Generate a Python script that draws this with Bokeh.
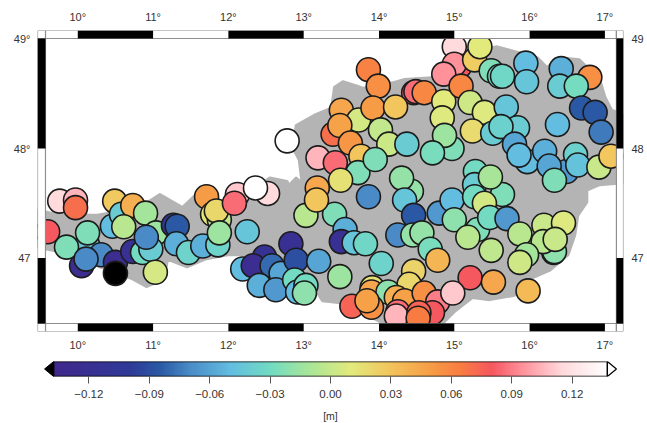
import numpy as np
from bokeh.embed import file_html
from bokeh.layouts import column
from bokeh.models import ColumnDataSource, FixedTicker, LinearAxis, LinearColorMapper
from bokeh.plotting import figure
from bokeh.resources import INLINE
from bokeh.transform import transform

FONT = "Liberation Sans"
# --- stations, in drawing order: longitude, latitude, value [m]
lon = [9.76,9.97,9.97,9.60,10.13,9.85,10.13,10.05,10.31,10.11,10.50,10.50,10.49,10.46,10.58,10.73,10.61,10.90,10.73,11.04,10.86,10.97,10.91,11.03,11.27,11.32,11.31,11.47,11.66,
       11.71,11.79,11.88,11.84,11.86,11.88,12.12,12.52,12.36,12.08,12.25,12.83,12.48,12.19,12.33,12.58,12.70,12.90,13.20,12.41,12.63,12.88,12.92,13.03,13.01,13.48,13.03,13.41,13.18,13.17,
       12.78,13.86,13.99,14.46,14.49,14.60,13.50,13.73,13.92,14.22,13.39,13.48,13.62,14.02,14.13,14.37,14.86,14.84,14.97,14.87,14.71,13.19,13.76,13.42,13.72,13.95,13.49,14.43,14.30,14.34,13.86,14.46,14.80,14.97,15.00,
       15.00,15.07,15.00,15.27,15.34,14.86,15.09,15.49,15.60,15.64,15.95,15.96,16.42,16.80,16.40,16.62,16.69,16.87,16.95,16.37,15.21,15.40,15.24,15.69,15.51,15.84,15.62,15.80,15.97,15.86,16.20,16.49,16.26,16.33,16.61,16.64,16.92,17.08,
       15.28,15.27,15.64,15.27,15.48,15.40,15.31,15.47,15.70,15.18,15.49,15.87,16.19,16.45,16.32,16.33,16.18,16.34,15.96,15.87,15.21,15.52,15.98,
       13.55,13.50,13.67,13.82,14.03,14.25,14.45,14.57,14.68,14.78,14.46,14.40,13.91,13.90,14.12,13.64,13.90,13.84,14.23,14.34,14.60,14.78,14.98,14.25,14.23,14.71,14.53,14.52]
lat = [47.52,47.53,47.46,47.24,47.12,47.10,47.23,46.93,47.03,46.99,46.96,46.86,47.52,47.29,47.40,47.48,47.285,47.41,47.06,47.23,47.05,47.08,47.19,46.87,47.30,47.29,47.13,47.05,47.11,
       47.56,47.40,47.35,47.43,47.12,47.23,47.58,47.59,47.64,47.50,47.24,47.13,47.01,46.90,46.93,46.93,46.86,46.98,46.97,46.75,46.71,46.80,46.69,46.75,46.68,46.83,47.39,47.40,47.64,47.53,
       48.07,48.72,48.57,48.51,48.52,48.51,48.35,48.26,48.37,48.38,48.13,48.21,48.05,48.17,48.04,48.04,48.43,48.28,48.00,48.12,47.96,47.915,47.93,47.87,47.78,47.90,47.71,47.61,47.73,47.53,47.56,47.39,47.41,47.53,47.35,
       48.93,48.75,48.77,48.81,48.93,48.68,48.57,48.71,48.66,48.66,48.78,48.61,48.73,48.65,48.57,48.57,48.37,48.33,48.15,48.22,48.42,48.33,48.16,48.38,48.14,48.19,48.20,48.04,47.88,47.94,47.975,47.79,47.84,47.71,47.945,47.85,47.83,47.93,
       47.79,47.67,47.58,47.56,47.74,47.50,47.26,47.37,47.36,47.19,47.07,47.22,47.30,47.32,47.05,47.06,47.15,47.17,47.03,46.96,46.82,46.78,46.70,
       47.26,47.15,47.14,47.13,46.95,47.21,47.21,47.23,47.08,46.98,46.88,46.76,46.73,46.69,46.69,46.56,46.55,46.61,46.64,46.61,46.68,46.60,46.68,46.51,46.47,46.50,46.50,46.45]
val = [.115,.105,.07,.08,-.045,-.025,-.025,-.125,-.07,-.07,-.125,-.2,.027,-.05,-.04,.04,-.005,-.012,-.12,-.015,-.03,-.04,-.07,.005,-.11,-.085,-.055,-.035,-.055,
       .05,.012,-.003,.02,-.035,-.015,.11,.115,.14,.085,-.045,-.12,-.115,-.05,-.125,-.08,-.06,-.09,-.06,-.055,-.065,-.03,-.05,-.03,-.02,-.015,-.005,-.025,.045,.03,
       .14,.062,.055,.08,.085,.06,.045,.005,.05,.03,.07,.047,.052,-.002,.002,-.04,.01,.008,-.025,-.015,-.027,.105,.03,.085,-.025,-.025,.015,-.018,-.018,-.045,-.07,-.085,-.065,-.05,-.02,
       .115,.08,.095,.025,.01,.095,.06,-.025,-.03,-.033,-.05,-.045,-.055,.055,-.04,-.028,-.085,-.085,-.075,-.05,.003,.008,.018,-.045,-.04,-.04,-.037,-.06,-.05,-.05,-.055,-.065,-.06,-.025,-.037,-.047,0.0,.028,
       -.03,-.04,-.025,-.03,-.01,.005,-.025,-.03,-.065,-.005,-.003,-.005,0.0,.008,-.12,-.02,-.005,0.0,-.012,.003,.08,.045,.035,
       -.055,-.12,-.045,-.033,-.035,-.07,-.018,-.018,-.027,.037,.022,.02,.015,.045,-.02,.075,.055,.048,.04,.048,.055,.09,.11,.085,.105,.08,.075,.065]

# --- outline of the country (grey area)
land_lon = [9.45,9.76,10.26,10.82,11.09,11.39,11.57,11.75,12.01,12.24,12.55,12.78,12.80,12.90,12.98,12.94,12.86,12.90,13.16,13.37,13.41,13.52,13.71,13.79,14.18,14.34,14.80,15.11,15.34,15.56,15.83,16.10,16.23,16.40,16.66,16.93,17.00,17.09,17.30,17.30,16.93,16.76,16.76,16.64,16.60,16.51,16.27,16.04,15.80,15.47,15.24,15.00,14.84,14.07,13.52,13.25,13.17,12.90,12.20,11.99,11.69,11.45,11.19,11.15,10.91,10.73,10.30,9.89,9.45]
land_lat = [47.44,47.39,47.39,47.46,47.58,47.46,47.58,47.56,47.50,47.58,47.73,47.70,47.66,47.73,47.68,47.90,48.00,48.21,48.31,48.37,48.56,48.61,48.57,48.55,48.60,48.63,48.65,48.76,48.89,48.93,48.88,48.83,48.74,48.83,48.81,48.63,48.47,48.35,48.29,47.69,47.67,47.62,47.51,47.39,47.21,47.03,46.89,46.82,46.66,46.62,46.64,46.51,46.40,46.40,46.59,46.61,46.70,46.80,47.03,47.03,46.99,46.92,46.99,46.81,46.74,46.81,46.92,47.04,47.10]

# --- map frame
frame_w, frame_e, frame_s, frame_n = 9.571, 17.153, 46.402, 49.005
lon_ticks = [10, 11, 12, 13, 14, 15, 16, 17]
lat_ticks = [47, 48, 49]
lon_black = [(10, 11), (12, 13), (14, 15), (16, 17)]
lat_black = [(frame_s, 47), (48, frame_n)]
lon_labels = {t: f"{t}°" for t in lon_ticks}
lat_labels_left = {47: "47", 48: "48°", 49: "49°"}
lat_labels_right = {47: "47", 48: "48", 49: "49"}

# --- colour scale
scale_low, scale_high = -0.1375, 0.1375
scale_ticks = [-0.12, -0.09, -0.06, -0.03, 0.0, 0.03, 0.06, 0.09, 0.12]
scale_labels = ["−0.12", "−0.09", "−0.06", "−0.03", "0.00", "0.03", "0.06", "0.09", "0.12"]
stop_val = [-.1375, -.10, -.085, -.07, -.05, -.03, -.012, .01, .03, .05, .065, .08, .095, .115, .1375]
stop_col = ["#40288c", "#2f3a98", "#2a5aa5", "#4a8cc8", "#62bde0", "#72dbc2", "#a4e59a", "#e3ea7c",
            "#f2c45c", "#f79c46", "#f87c42", "#f6575f", "#ff8f9a", "#ffd9dc", "#ffffff"]

rgb = np.array([[int(c[i:i + 2], 16) for i in (1, 3, 5)] for c in stop_col], float)
grid = np.linspace(scale_low, scale_high, 256)
palette = ["#%02x%02x%02x" % tuple(int(round(np.interp(g, stop_val, rgb[:, k]))) for k in range(3)) for g in grid]
mapper = LinearColorMapper(palette=palette, low=scale_low, high=scale_high, low_color="#000000", high_color="#ffffff")

p = figure(width=646, height=357, frame_width=586, frame_height=301,
           x_range=(9.465, 17.247), y_range=(46.329, 49.078),
           min_border_left=37, min_border_right=23, min_border_top=30, min_border_bottom=26,
           output_backend="svg", toolbar_location=None, x_axis_location=None, y_axis_location=None)
p.grid.visible = False
p.outline_line_color = None
p.background_fill_color = "white"

p.patch(land_lon, land_lat, fill_color="#b4b4b4", line_color="#b4b4b4", line_width=3, line_join="round")
p.scatter(x="lon", y="lat", source=ColumnDataSource(dict(lon=lon, lat=lat, val=val)), size=24,
          fill_color=transform("val", mapper), line_color="#1c1c1c", line_width=1.6)

# frame: white bands, corners, black stripes
GREY = "#8e8e8e"
x0, x1, y0, y1 = p.x_range.start, p.x_range.end, p.y_range.start, p.y_range.end
p.quad(left=[frame_w, frame_w, x0, frame_e], right=[frame_e, frame_e, frame_w, x1],
       bottom=[frame_n, y0, frame_s, frame_s], top=[y1, frame_s, frame_n, frame_n],
       fill_color="white", line_color=GREY, line_width=1.2)
p.quad(left=[x0, frame_e, x0, frame_e], right=[frame_w, x1, frame_w, x1],
       bottom=[frame_n, frame_n, y0, y0], top=[y1, y1, frame_s, frame_s],
       fill_color="white", line_color=GREY, line_width=1.2)
for a, b in lon_black:
    p.quad(left=[a, a], right=[b, b], bottom=[frame_n, y0], top=[y1, frame_s], fill_color="black", line_color=None)
for a, b in lat_black:
    p.quad(left=[x0, frame_e], right=[frame_w, x1], bottom=[a, a], top=[b, b], fill_color="black", line_color=None)

def style(ax, standoff):
    ax.axis_line_color = None
    ax.major_tick_line_color = None
    ax.minor_tick_line_color = None
    ax.major_tick_in = 0
    ax.major_tick_out = 0
    ax.major_label_text_font = FONT
    ax.major_label_text_font_size = "11px"
    ax.major_label_text_color = "#333333"
    ax.major_label_standoff = standoff

for side, stand in (("above", 8), ("below", 7)):
    ax = LinearAxis(ticker=FixedTicker(ticks=lon_ticks), major_label_overrides=lon_labels)
    style(ax, stand)
    p.add_layout(ax, side)
for side, labels, stand in (("left", lat_labels_left, 7), ("right", lat_labels_right, 8)):
    ax = LinearAxis(ticker=FixedTicker(ticks=lat_ticks), major_label_overrides=labels)
    style(ax, stand)
    ax.major_label_orientation = "horizontal"
    p.add_layout(ax, side)

# colour bar: its frame shares the map frame's left and right edges
end_pad = 0.0045
cb = figure(width=646, height=65, frame_width=586, frame_height=15,
            x_range=(-0.1455, 0.1455), y_range=(0, 1),
            min_border_left=37, min_border_right=23, min_border_top=4, min_border_bottom=46,
            output_backend="svg", toolbar_location=None, x_axis_location=None, y_axis_location=None)
cb.grid.visible = False
cb.outline_line_color = None
cb.image(image=[grid[None, :]], x=scale_low, y=0, dw=scale_high - scale_low, dh=1, color_mapper=mapper)
cb.quad(left=[scale_low], right=[scale_high], bottom=[0], top=[1], fill_color=None, line_color="black", line_width=1.4)
cb.patch([scale_low, scale_low, scale_low - end_pad], [0, 1, 0.5], fill_color="black", line_color="black", line_width=1)
cb.patch([scale_high, scale_high, scale_high + end_pad], [0, 1, 0.5], fill_color="white", line_color="black", line_width=1.2)
cax = LinearAxis(ticker=FixedTicker(ticks=scale_ticks),
                 major_label_overrides=dict(zip(scale_ticks, scale_labels)), axis_label="[m]")
cax.axis_line_color = None
cax.minor_tick_line_color = None
cax.major_tick_in = 0
cax.major_tick_out = 7
cax.major_tick_line_color = "#555555"
cax.major_label_text_font = FONT
cax.major_label_text_font_size = "11.5px"
cax.major_label_text_color = "#333333"
cax.major_label_standoff = 6
cax.axis_label_text_font = FONT
cax.axis_label_text_font_size = "10.5px"
cax.axis_label_text_font_style = "normal"
cax.axis_label_text_color = "#333333"
cax.axis_label_standoff = 9
cb.add_layout(cax, "below")

page = column(p, cb, spacing=0, margin=(0, -8, -8, 0))
open("out.html", "w").write(file_html(page, INLINE))
